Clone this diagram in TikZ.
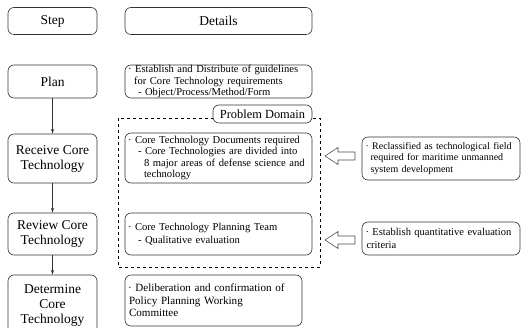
\documentclass[tikz,border=0pt]{standalone}
\usepackage{fontspec}
\setmainfont{Liberation Serif}
\usetikzlibrary{shapes,arrows,positioning,calc}

\tikzset{
  box/.style={draw=black!80, line width=0.6pt, rounded corners=6pt},
  stepbox/.style={box, minimum width=89pt, align=center, inner sep=0pt,
    font=\fontsize{13.5}{15}\selectfont},
  detailbox/.style={box, minimum width=187pt, text width=181pt, align=left,
    inner xsep=3pt, inner ysep=0pt, font=\fontsize{10.6}{11.5}\selectfont},
  sidebox/.style={detailbox, minimum width=158pt, text width=151pt, inner xsep=3.5pt},
  hollowarrow/.style={draw=black!70, line width=0.6pt, line join=miter},
  flow/.style={-latex, line width=0.5pt, black!80}
}

\begin{document}
\begin{tikzpicture}[x=1pt, y=-1pt]
            \useasboundingbox (0,0) rectangle (524,328);
            \clip (0,0) rectangle (524,328);
            % header
            \node[stepbox, minimum height=27pt] (step) at (52.5,21) {Step};
            \node[stepbox, minimum width=187pt, minimum height=27pt] (details) at (218.5,21) {Details};

            % steps
            \node[stepbox, minimum height=33pt] (plan) at (52.5,81.5) {Plan};
            \node[stepbox, minimum height=49pt] (receive) at (52.5,158.5) {Receive Core\\Technology};
            \node[stepbox, minimum height=42pt] (review) at (52.5,234) {Review Core\\Technology};
            \node[stepbox, minimum height=60pt] (determine) at (52.5,305) {Determine\\Core\\Technology};

            \draw[flow] (plan) -- (receive);
            \draw[flow] (receive) -- (review);
            \draw[flow] (review) -- (determine);

            % problem domain
            \draw[dashed, line width=0.8pt] (118,118) rectangle (320,267);
            \node[stepbox, minimum width=99pt, minimum height=18pt, fill=white,
              font=\fontsize{12.4}{14}\selectfont] (domain) at (262.5,114) {Problem Domain};

            % details
            \node[detailbox, minimum height=33pt] (plandet) at (218.5,81.5)
              {· Establish and Distribute of guidelines\\
               \hspace*{6pt}for Core Technology requirements\\
               \hspace*{10pt}- Object/Process/Method/Form};
            \node[detailbox, minimum height=50pt] (recdet) at (218.5,158)
              {· Core Technology Documents required\\
               \hspace*{10pt}- Core Technologies are divided into\\
               \hspace*{16pt}8 major areas of defense science and\\
               \hspace*{16pt}technology};
            \node[detailbox, minimum height=42pt, font=\fontsize{10.6}{13}\selectfont] (revdet) at (218.5,234)
              {· Core Technology Planning Team\\
               \hspace*{10pt}- Qualitative evaluation};
            \node[detailbox, minimum width=177pt, text width=171pt, minimum height=51pt,
              font=\fontsize{11.1}{12.5}\selectfont] (detdet) at (213.5,300.5)
              {· Deliberation and confirmation of\\
               \hspace*{1pt}Policy Planning Working\\
               \hspace*{1pt}Committee};

            % improvements
            \node[sidebox, minimum height=43pt, font=\fontsize{10}{11.5}\selectfont] (reclass) at (441,158.5)
              {· Reclassified as technological field\\
               \hspace*{5pt}required for maritime unmanned\\
               \hspace*{5pt}system development};
            \node[sidebox, minimum height=33pt, font=\fontsize{10.5}{12.5}\selectfont] (quant) at (441,238.5)
              {· Establish quantitative evaluation\\
               \hspace*{1pt}criteria};

            % hollow arrows
            \coordinate (tipa) at (325,156);
            \coordinate (tipb) at (325,240);
            \foreach \t in {tipa,tipb} {
                \draw[hollowarrow] (\t) -- ++(13,-8.5) -- ++(0,4.5) -- ++(17,0) -- ++(0,8)
                    -- ++(-17,0) -- ++(0,4.5) -- cycle;
            }
\end{tikzpicture}
\end{document}
